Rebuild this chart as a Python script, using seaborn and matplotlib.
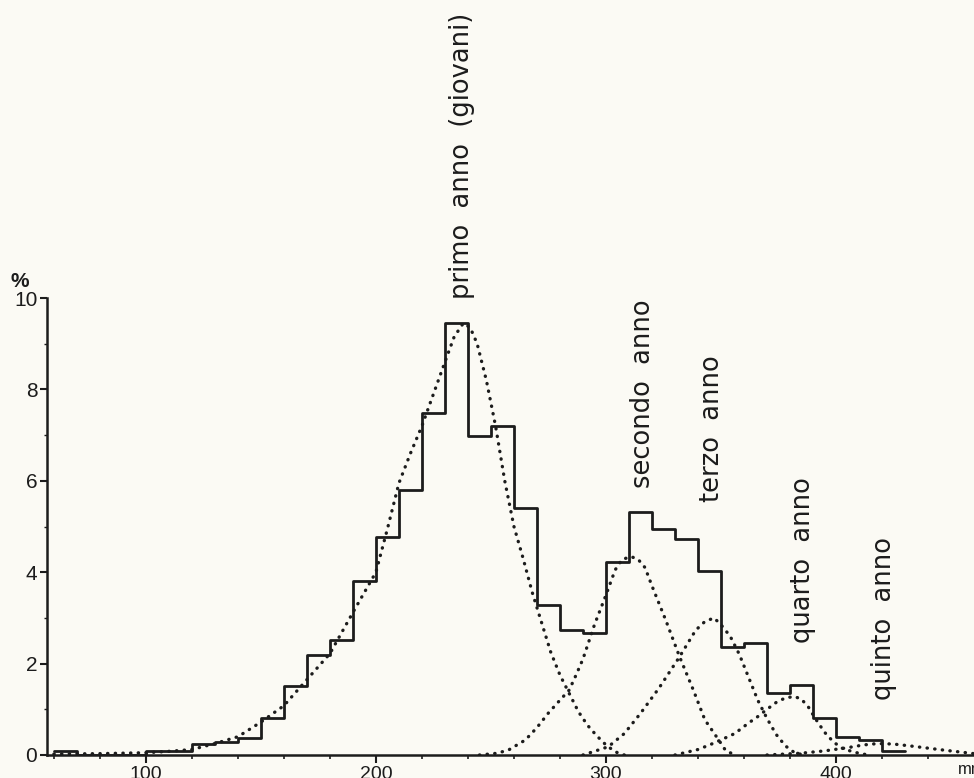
import matplotlib
matplotlib.use("Agg")
import matplotlib.pyplot as plt
import seaborn as sns
import numpy as np
import pandas as pd

# ---------------- data ----------------
# histogram: left edges of 10 mm classes and percentage values
bin_left = [60, 70, 80, 90, 100, 110, 120, 130, 140, 150, 160, 170, 180, 190,
            200, 210, 220, 230, 240, 250, 260, 270, 280, 290, 300, 310, 320,
            330, 340, 350, 360, 370, 380, 390, 400, 410, 420]
bin_pct = [0.08, 0.0, 0.0, 0.0, 0.08, 0.08, 0.25, 0.28, 0.38, 0.80, 1.50, 2.19,
           2.52, 3.80, 4.76, 5.80, 7.48, 9.45, 6.99, 7.20, 5.40, 3.28, 2.73,
           2.66, 4.23, 5.32, 4.94, 4.73, 4.03, 2.37, 2.44, 1.35, 1.53, 0.80,
           0.40, 0.33, 0.08]
bin_width = 10

# fitted components (dotted curves)
primo_x = [60, 80, 100, 110, 120, 130, 140, 150, 160, 170, 180, 190, 200, 205,
           210, 215, 220, 225, 230, 234, 238, 241, 244, 248, 252, 256, 260, 264,
           268, 272, 276, 280, 284, 288, 292, 296, 300, 304, 308]
primo_y = [0.02, 0.03, 0.05, 0.08, 0.12, 0.25, 0.40, 0.72, 1.08, 1.65, 2.22,
           3.12, 4.00, 4.95, 5.95, 6.60, 7.20, 7.90, 8.60, 9.15, 9.45, 9.35,
           9.00, 8.20, 7.20, 6.00, 5.00, 4.30, 3.55, 2.90, 2.25, 1.75, 1.35,
           0.95, 0.65, 0.42, 0.22, 0.07, 0.0]

secondo_x = [245, 253, 258, 265, 270, 275, 280, 284, 287, 290, 295, 300, 304,
             307, 311, 314, 317, 320, 326, 332, 338, 343, 349, 352, 356]
secondo_y = [0.0, 0.04, 0.12, 0.33, 0.60, 0.92, 1.20, 1.42, 1.75, 2.10, 2.85,
             3.50, 4.05, 4.28, 4.34, 4.28, 4.10, 3.70, 2.95, 2.15, 1.42, 0.77,
             0.33, 0.10, 0.0]

terzo_x = [290, 301, 308, 315, 323, 332, 339, 343, 347, 350, 354, 358, 362,
           366, 370, 374, 378, 382, 386]
terzo_y = [0.0, 0.18, 0.47, 0.91, 1.46, 2.15, 2.73, 2.92, 3.00, 2.85, 2.60,
           2.20, 1.70, 1.20, 0.80, 0.45, 0.20, 0.05, 0.0]

quarto_x = [330, 340, 345, 350, 356, 362, 366, 370, 374, 378, 382, 385, 388,
            391, 395, 399, 403, 408, 414]
quarto_y = [0.0, 0.12, 0.22, 0.33, 0.47, 0.70, 0.84, 1.00, 1.15, 1.25, 1.28,
            1.22, 1.05, 0.80, 0.50, 0.28, 0.14, 0.06, 0.0]

quinto_x = [370, 385, 395, 405, 412, 418, 425, 432, 440, 448, 455, 460]
quinto_y = [0.0, 0.04, 0.09, 0.16, 0.22, 0.25, 0.24, 0.20, 0.15, 0.10, 0.06, 0.03]

labels = ["primo  anno  (giovani)", "secondo  anno", "terzo  anno",
          "quarto  anno", "quinto  anno"]
label_x = [237.2, 316, 346, 385.5, 421]
label_y = [9.98, 5.85, 5.54, 2.45, 1.2]

x_ticks = [100, 200, 300, 400]
y_ticks = [0, 2, 4, 6, 8, 10]

# ---------------- style ----------------
sns.set_style("ticks")
plt.rcParams["font.family"] = ["Liberation Sans", "DejaVu Sans"]
ink = "#1c1c1c"
paper = "#fbfaf4"

fig = plt.figure(figsize=(9.74, 7.78), dpi=100, facecolor=paper)
ax = fig.add_axes([47 / 974, 23 / 778, (974 - 47) / 974, 457 / 778])
ax.set_facecolor(paper)

# histogram as a step outline
centers = [b + bin_width / 2 for b in bin_left]
edges = bin_left + [bin_left[-1] + bin_width]
hist_df = pd.DataFrame({"mm": centers, "pct": bin_pct})
sns.histplot(data=hist_df, x="mm", weights="pct", bins=edges, element="step",
             fill=False, color=ink, linewidth=2.0, ax=ax)

# dotted component curves
for cx, cy in [(primo_x, primo_y), (secondo_x, secondo_y), (terzo_x, terzo_y),
               (quarto_x, quarto_y), (quinto_x, quinto_y)]:
    sns.lineplot(x=cx, y=cy, ax=ax, color=ink, linewidth=2.4,
                 linestyle=(0, (0.1, 2.2)), dash_capstyle="round", sort=True)

# labels
for t, lx, ly in zip(labels, label_x, label_y):
    ax.text(lx, ly, t, rotation=90, ha="center", va="bottom", fontsize=18.5,
            family=["DejaVu Sans"], color=ink, clip_on=False)

ax.set_xlim(57, 460)
ax.set_ylim(0, 10)
ax.set_xlabel("")
ax.set_ylabel("")
ax.set_xticks(x_ticks)
ax.set_xticks(np.arange(60, 460, 20), minor=True)
ax.set_yticks(y_ticks)
ax.set_yticks([1, 3, 5, 7, 9], minor=True)
ax.tick_params(axis="x", which="major", direction="out", length=6, width=1.5,
               pad=2, labelsize=14, colors=ink)
ax.tick_params(axis="x", which="minor", direction="out", length=3, width=1.2,
               colors=ink)
ax.tick_params(axis="y", which="major", direction="out", length=5, width=1.5,
               pad=2, labelsize=15, colors=ink)
ax.tick_params(axis="y", which="minor", direction="out", length=2, width=1.0,
               colors=ink)
sns.despine(ax=ax, top=True, right=True)
ax.spines["left"].set_bounds(0, 10)
for s in ("left", "bottom"):
    ax.spines[s].set_linewidth(1.8)
    ax.spines[s].set_color(ink)

fig.text(20 / 974, 1 - 282 / 778, "%", fontsize=15, fontweight="bold",
         color=ink, ha="center", va="center")
fig.text(958 / 974, 1 - 770 / 778, "mm", fontsize=12, color=ink,
         ha="left", va="center")

fig.savefig("out.png", dpi=100, facecolor=paper)
